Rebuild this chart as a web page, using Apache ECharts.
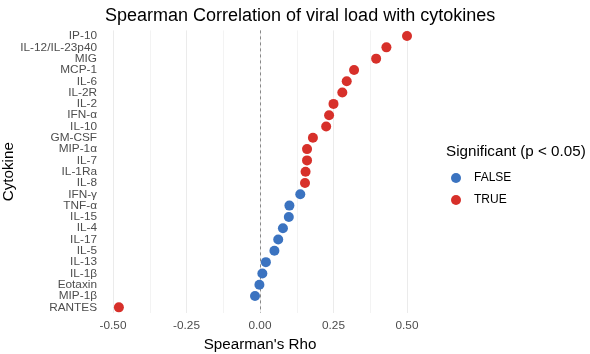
<!DOCTYPE html>
<html>
<head>
<meta charset="utf-8">
<script src="https://cdn.jsdelivr.net/npm/echarts@6/dist/echarts.min.js"></script>
<style>
  html, body { margin: 0; padding: 0; background: #fff; }
</style>
</head>
<body>
<div id="chart" style="width: 590px; height: 354px;"></div>
<script>
// cytokines top to bottom
const cytokines = ['IP-10', 'IL-12/IL-23p40', 'MIG', 'MCP-1', 'IL-6', 'IL-2R', 'IL-2', 'IFN-α', 'IL-10', 'GM-CSF',
    'MIP-1α', 'IL-7', 'IL-1Ra', 'IL-8', 'IFN-γ', 'TNF-α', 'IL-15', 'IL-4', 'IL-17', 'IL-5',
    'IL-13', 'IL-1β', 'Eotaxin', 'MIP-1β', 'RANTES'];
const rho = [0.50, 0.43, 0.395, 0.32, 0.295, 0.28, 0.25, 0.235, 0.225, 0.18,
    0.16, 0.16, 0.155, 0.153, 0.137, 0.10, 0.098, 0.078, 0.062, 0.049,
    0.02, 0.008, -0.002, -0.017, -0.48];
const significant = [true, true, true, true, true, true, true, true, true, true,
    true, true, true, true, false, false, false, false, false, false,
    false, false, false, false, true];

const font = '"Liberation Sans", Arial, sans-serif';

function groupData(flag) {
    const out = [];
    for (let i = 0; i < cytokines.length; i++) {
        if (significant[i] === flag) out.push([rho[i], cytokines[i]]);
    }
    return out;
}

const chart = echarts.init(document.getElementById('chart'));

const option = {
    animation: false,
    textStyle: { fontFamily: font },
    title: [
        {
            text: 'Spearman Correlation of viral load with cytokines',
            left: 100, top: 2,
            textStyle: { fontFamily: font, fontSize: 18, fontWeight: 'normal', color: '#000' }
        },
        {
            text: 'Significant (p < 0.05)',
            left: 441, top: 139,
            textStyle: { fontFamily: font, fontSize: 15.2, fontWeight: 'normal', color: '#000' }
        }
    ],
    legend: {
        orient: 'vertical',
        left: 446, top: 167,
        itemWidth: 10, itemHeight: 10,
        itemGap: 10,
        icon: 'circle',
        data: ['FALSE', 'TRUE'],
        textStyle: { fontFamily: font, fontSize: 12, color: '#000', padding: [0, 0, 0, 8] }
    },
    grid: { left: 113, right: 183, top: 30.4, bottom: 41, containLabel: false, outerBoundsMode: 'none' },
    xAxis: {
        type: 'value',
        min: -0.5, max: 0.5, interval: 0.25,
        name: "Spearman's Rho",
        nameLocation: 'middle',
        nameGap: 23,
        nameTextStyle: { fontFamily: font, fontSize: 15.2, color: '#000' },
        axisLine: { show: false },
        axisTick: { show: false },
        axisLabel: {
            fontFamily: font, fontSize: 11.8, color: '#4d4d4d', margin: 7,
            formatter: v => v.toFixed(2)
        },
        splitLine: { show: true, lineStyle: { color: '#ebebeb', width: 1 } },
        minorTick: { show: false, splitNumber: 2 },
        minorSplitLine: { show: true, lineStyle: { color: '#f3f3f3', width: 1 } }
    },
    yAxis: {
        type: 'category',
        data: cytokines,
        inverse: true,
        name: 'Cytokine',
        nameLocation: 'middle',
        nameGap: 93,
        nameRotate: 90,
        nameTextStyle: { fontFamily: font, fontSize: 15.2, color: '#000' },
        axisLine: { show: false },
        axisTick: { show: false },
        axisLabel: { fontFamily: font, fontSize: 11.8, color: '#4d4d4d', margin: 16, interval: 0 },
        splitLine: { show: false }
    },
    series: [
        {
            name: 'FALSE',
            type: 'scatter',
            symbolSize: 10,
            itemStyle: { color: '#3b73c0', opacity: 1 },
            data: groupData(false),
            z: 3
        },
        {
            name: 'TRUE',
            type: 'scatter',
            symbolSize: 10,
            itemStyle: { color: '#d7302a', opacity: 1 },
            data: groupData(true),
            z: 3,
            markLine: {
                silent: true,
                symbol: 'none',
                label: { show: false },
                lineStyle: { color: '#888', type: [3, 3], width: 1 },
                data: [{ xAxis: 0 }],
                z: 2
            }
        }
    ]
};

chart.setOption(option);
</script>
</body>
</html>
